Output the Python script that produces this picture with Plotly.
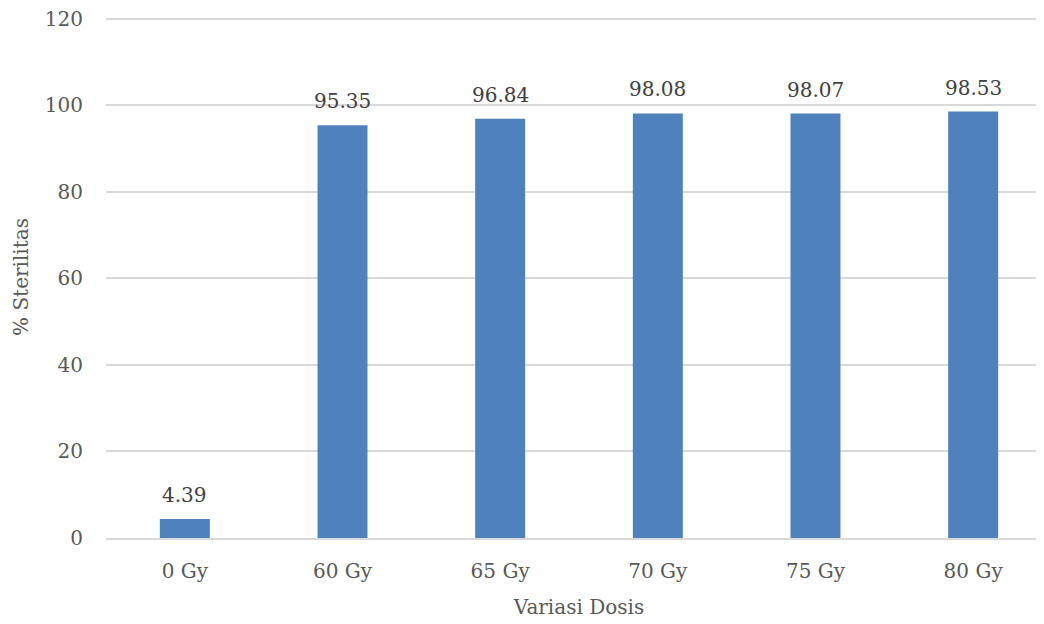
import plotly.graph_objects as go

categories = ["0 Gy", "60 Gy", "65 Gy", "70 Gy", "75 Gy", "80 Gy"]
values = [4.39, 95.35, 96.84, 98.08, 98.07, 98.53]
y_ticks = [0, 20, 40, 60, 80, 100, 120]

FONT = "DejaVu Serif"

fig = go.Figure(go.Bar(
    x=categories, y=values,
    marker=dict(color="#4F81BD", line=dict(width=0)),
    width=0.317,
    cliponaxis=False,
))

for c, v in zip(categories, values):
    fig.add_annotation(
        x=c, y=v, text=f"{v:.2f}", showarrow=False,
        yanchor="bottom", yshift=10,
        font=dict(family=FONT, size=20, color="#404040"),
    )

fig.update_layout(
    width=1044, height=624,
    margin=dict(l=98, r=0, t=7.7, b=93.7, autoexpand=False),
    plot_bgcolor="white", paper_bgcolor="white",
    showlegend=False,
    font=dict(family=FONT, size=20, color="#595959"),
    xaxis=dict(
        range=[-0.5, 5.5], automargin=False,
        showgrid=False,
        showline=True, linecolor="#d9d9d9", linewidth=1.5,
        ticks="outside", ticklen=14, tickcolor="rgba(0,0,0,0)",
        tickfont=dict(family=FONT, size=20, color="#595959"),
        title=dict(text="Variasi Dosis", standoff=18,
                   font=dict(family=FONT, size=20, color="#595959")),
    ),
    yaxis=dict(
        range=[0, 120.6], tickvals=y_ticks, automargin=False,
        ticklabeloverflow="allow",
        showgrid=True, gridcolor="#d9d9d9", gridwidth=1.5,
        zeroline=False,
        ticks="outside", ticklen=18, tickcolor="rgba(0,0,0,0)",
        tickfont=dict(family=FONT, size=20, color="#595959"),
        title=dict(text="% Sterilitas", standoff=10,
                   font=dict(family=FONT, size=20, color="#595959")),
    ),
)

fig.write_html("out.html")
